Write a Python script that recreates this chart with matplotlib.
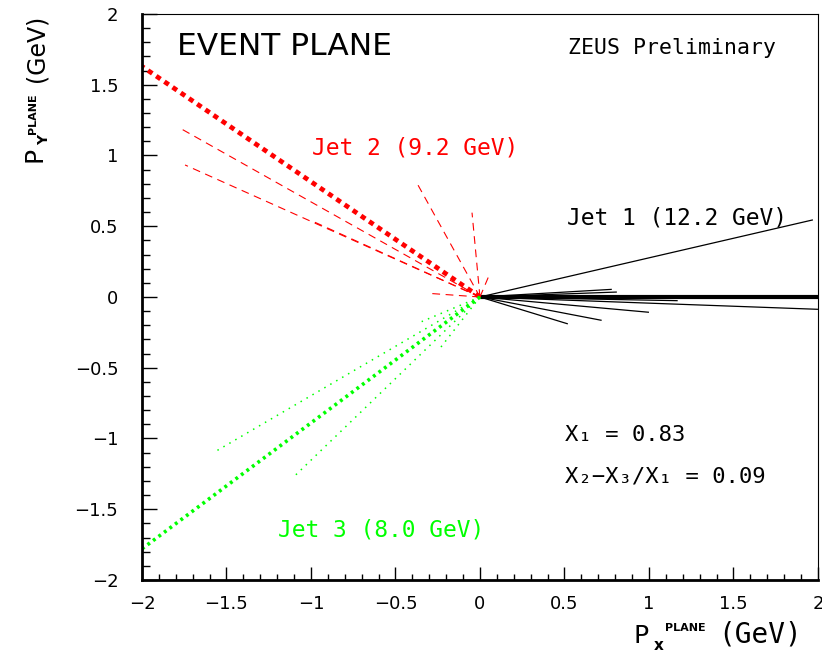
import matplotlib
matplotlib.use('Agg')
import matplotlib.pyplot as plt
from matplotlib.ticker import MultipleLocator

plt.rcParams['font.family'] = ['DejaVu Sans']

MONO = ['DejaVu Sans Mono', 'DejaVu Sans']

# particle momenta in the event plane (GeV), one line drawn from origin per particle
# jet 1 (black, solid)
jet1_px = [2.00, 1.97, 0.78, 0.81, 1.17, 2.00, 1.00, 0.72, 0.52]
jet1_py = [0.00, 0.545, 0.054, 0.035, -0.026, -0.087, -0.108, -0.165, -0.19]
jet1_big = [True, False, False, False, False, False, False, False, False]

# jet 2 (red, dashed)
jet2_px = [-2.00, -1.785, -1.745, -1.006, -0.369, -0.047, 0.059, -0.306]
jet2_py = [1.63, 1.20, 0.933, 0.544, 0.796, 0.596, 0.167, 0.026]
jet2_big = [True, False, False, False, False, False, False, False]

# jet 3 (green, dotted)
jet3_px = [-2.00, -1.574, -1.095, -0.345, -0.237]
jet3_py = [-1.78, -1.098, -1.263, -0.174, -0.363]
jet3_big = [True, False, False, False, False]

x1_value = 0.83
x23_value = 0.09
jet_energies = {'Jet 1': 12.2, 'Jet 2': 9.2, 'Jet 3': 8.0}

W, H = 822, 657
fig = plt.figure(figsize=(W / 100, H / 100), dpi=100)
ax = fig.add_axes([0.1727, 0.1172, 0.8224, 0.8615])


def fpos(x, y):
    # pixel position (from top-left) -> figure fraction
    return x / W, 1 - y / H


# jet 1
for px, py, big in zip(jet1_px, jet1_py, jet1_big):
    ax.plot([0, px], [0, py], color='black', lw=3.0 if big else 0.9,
            solid_capstyle='butt')

# jet 2
for px, py, big in zip(jet2_px, jet2_py, jet2_big):
    if big:
        ax.plot([0, px], [0, py], color='red', lw=3.4, dashes=(1.1, 1.0),
                dash_capstyle='butt')
    else:
        ax.plot([0, px], [0, py], color='red', lw=0.8, dashes=(7, 5),
                dash_capstyle='butt')

# jet 3
for px, py, big in zip(jet3_px, jet3_py, jet3_big):
    if big:
        ax.plot([0, px], [0, py], color='#00ff00', lw=2.6, dashes=(0.8, 1.1),
                dash_capstyle='butt')
    else:
        ax.plot([0, px], [0, py], color='#00ff00', lw=1.1, dashes=(1, 3.5),
                dash_capstyle='butt')

ax.set_xlim(-2, 2)
ax.set_ylim(-2, 2)

ax.xaxis.set_major_locator(MultipleLocator(0.5))
ax.xaxis.set_minor_locator(MultipleLocator(0.1))
ax.yaxis.set_major_locator(MultipleLocator(0.5))
ax.yaxis.set_minor_locator(MultipleLocator(0.1))
fmt = plt.FuncFormatter(lambda v, p: ('%g' % v).replace('-', '\u2212'))
ax.xaxis.set_major_formatter(fmt)
ax.yaxis.set_major_formatter(fmt)

ax.tick_params(axis='x', which='major', direction='in', length=9.5, width=1.0,
               labelsize=13, pad=11)
ax.tick_params(axis='x', which='minor', direction='in', length=4.5, width=1.0)
ax.tick_params(axis='y', which='major', direction='in', length=11, width=1.0,
               labelsize=13, pad=17)
ax.tick_params(axis='y', which='minor', direction='in', length=6, width=1.0)

ax.spines['left'].set_linewidth(2.0)
ax.spines['bottom'].set_linewidth(2.0)
ax.spines['top'].set_linewidth(0.8)
ax.spines['right'].set_linewidth(0.8)

# in-plot texts
ax.text(-1.793, 1.767, 'EVENT PLANE', fontsize=22.5, va='center', ha='left')
ax.text(0.521, 1.76, 'ZEUS Preliminary', fontsize=15.5, family=MONO,
        va='center', ha='left')
ax.text(-0.994, 1.053, 'Jet 2 (%.1f GeV)' % jet_energies['Jet 2'], fontsize=16.5,
        family=MONO, color='red', va='center', ha='left')
ax.text(0.515, 0.558, 'Jet 1 (%.1f GeV)' % jet_energies['Jet 1'], fontsize=16.5,
        family=MONO, color='black', va='center', ha='left')
ax.text(-1.195, -1.647, 'Jet 3 (%.1f GeV)' % jet_energies['Jet 3'], fontsize=16.5,
        family=MONO, color='#00ff00', va='center', ha='left')
ax.text(0.503, -0.975, 'X\u2081 = %.2f' % x1_value, fontsize=16, family=MONO,
        va='center', ha='left')
ax.text(0.503, -1.272, 'X\u2082\u2212X\u2083/X\u2081 = %.2f' % x23_value,
        fontsize=16, family=MONO, va='center', ha='left')

# x axis title: P_x^PLANE (GeV)
fig.text(*fpos(633, 643), 'P', fontsize=18, ha='left', va='baseline')
fig.text(*fpos(654, 650), 'x', fontsize=11, fontweight='bold', ha='left', va='baseline')
fig.text(*fpos(665, 631), 'PLANE', fontsize=8, fontweight='bold', ha='left', va='baseline')
fig.text(*fpos(718, 643), '(GeV)', fontsize=20, family=MONO, ha='left', va='baseline')

# y axis title: P_Y^PLANE (GeV), rotated
rot = dict(rotation=90, rotation_mode='anchor', ha='left', va='baseline')
fig.text(*fpos(41, 162), 'P', fontsize=18, **rot)
fig.text(*fpos(48, 145), 'Y', fontsize=10, fontweight='bold', **rot)
fig.text(*fpos(36, 134), 'PLANE', fontsize=8, fontweight='bold', **rot)
fig.text(*fpos(43, 82), '(GeV)', fontsize=17, **rot)

fig.savefig('out.png', dpi=100)
